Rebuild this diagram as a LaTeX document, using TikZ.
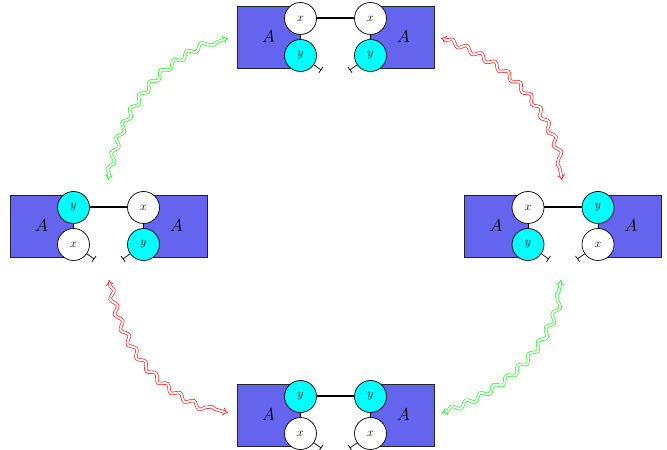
\documentclass[tikz,border=0pt]{standalone}
\usetikzlibrary{decorations.pathmorphing,arrows.meta}
\definecolor{boxblue}{RGB}{100,100,238}
\definecolor{ccyan}{RGB}{0,255,255}
\definecolor{cgreen}{RGB}{20,245,20}
\definecolor{cred}{RGB}{250,20,20}
\tikzset{
 rectbox/.style={draw=black!85, fill=boxblue, line width=0.7pt, minimum width=63.5pt, minimum height=62pt, inner sep=0pt},
 circ/.style={draw=black, line width=0.7pt, circle, minimum size=32pt, inner sep=0pt, font=\large},
 cx/.style={circ, fill=white},
 cy/.style={circ, fill=ccyan},
 biglab/.style={font=\LARGE, inner sep=0pt},
 bond/.style={line width=2pt},
 link/.style={line width=0.7pt},
 tbar/.style={line width=0.7pt, arrows={-Bar[width=7pt,line width=0.7pt]}},
 wave/.style={double=white, double distance=2pt, line width=0.65pt, decorate,
   decoration={snake, amplitude=2.8pt, segment length=16pt, pre length=6pt, post length=6pt},
   arrows={Implies[scale=1.7]-Implies[scale=1.7]}},
}
\newcommand\grp[6]{%
 \begin{scope}[shift={(#2)}]
  \node[rectbox] (#1L) at (-66.75,0) {};
  \node[rectbox] (#1R) at (66.75,0) {};
  \node[biglab] (#1LA) at (-67,0) {$A$};
  \node[biglab] (#1RA) at (68,0) {$A$};
  \node[c#3] (#1lt) at (-35,18.5) {$#3$};
  \node[c#4] (#1lb) at (-35,-18.5) {$#4$};
  \node[c#5] (#1rt) at (35,18.5) {$#5$};
  \node[c#6] (#1rb) at (35,-18.5) {$#6$};
  \draw[link] (#1lt) -- (#1lb);
  \draw[link] (#1rt) -- (#1rb);
  \draw[bond] (#1lt) -- (#1rt);
  \path (#1lb.-35) ++(-35:9) coordinate (#1lbe);
  \path (#1rb.215) ++(215:9) coordinate (#1rbe);
  \draw[tbar] (#1lb.-35) -- (#1lbe);
  \draw[tbar] (#1rb.215) -- (#1rbe);
 \end{scope}}
\begin{document}
\begin{tikzpicture}[x=1pt,y=1pt]
\useasboundingbox (0,0) rectangle (667,450);
\grp{T}{335.5,413}{x}{y}{x}{y}
\grp{W}{108.5,224}{y}{x}{x}{y}
\grp{E}{563,224}{x}{y}{y}{x}
\grp{S}{335.5,35}{y}{x}{y}{x}
\coordinate (tl1) at (108,270); \coordinate (tl2) at (228,412);
\coordinate (tr1) at (441,412); \coordinate (tr2) at (562,270);
\coordinate (bl1) at (109,170); \coordinate (bl2) at (228,37);
\coordinate (br1) at (442,37);  \coordinate (br2) at (561,170);
\draw[wave, cgreen] (tl1) to[out=80,in=200] (tl2);
\draw[wave, cred] (tr1) to[out=-20,in=100] (tr2);
\draw[wave, cred] (bl1) to[out=-80,in=165] (bl2);
\draw[wave, cgreen] (br1) to[out=20,in=260] (br2);
\end{tikzpicture}
\end{document}
